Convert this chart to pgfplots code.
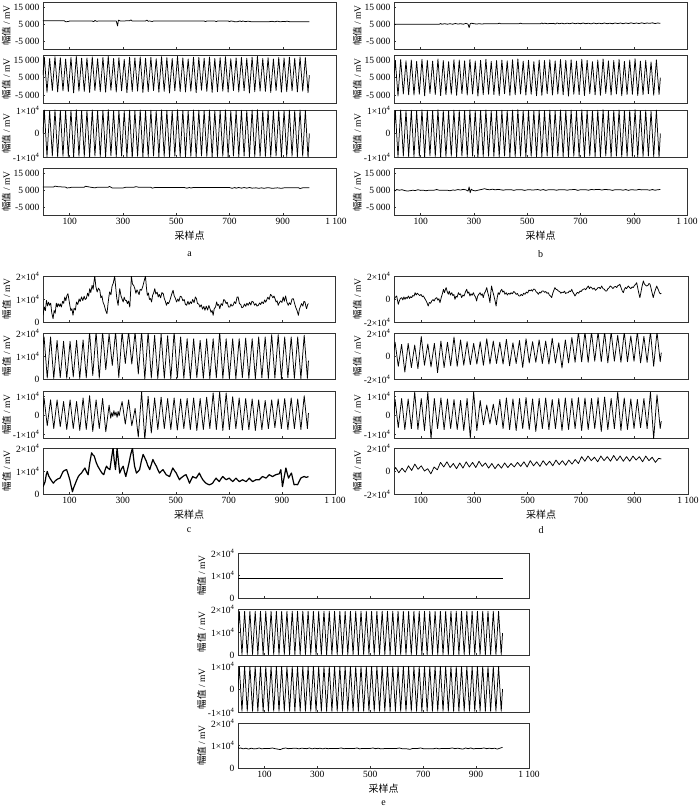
\documentclass[border=0pt]{standalone}
\usepackage{fontspec}
\setmainfont{Liberation Serif}
\newfontfamily\cjk{Noto Sans CJK SC}
\usepackage{pgfplots}
\usepackage{pgfplotstable}
\pgfplotsset{compat=1.18}

% clean 50-cycle signals (peaks / troughs), panels a, b, e
\pgfplotstableread{
x a2 a3 b2 b3 e2 e3
0 6500 0 5000 0 9500 0
5 16750 9950 14800 9800 19000 9800
15 -3300 -9900 -5550 -10050 200 -9700
25 16000 9700 15400 10000 19000 9800
35 -2400 -9600 -4350 -9650 200 -9700
45 17050 10050 14650 9750 19000 9800
55 -3150 -9850 -4800 -9800 200 -9700
65 16450 9850 15100 9900 19000 9800
75 -2550 -9650 -4950 -9850 200 -9700
85 15700 9600 14350 9650 19000 9800
95 -3000 -9800 -4500 -9700 200 -9700
105 16600 9900 15550 10050 19000 9800
115 -3750 -10050 -5400 -10000 200 -9700
125 17200 10100 14950 9850 19000 9800
135 -2700 -9700 -4050 -9550 200 -9700
145 16150 9750 14500 9700 19000 9800
155 -2850 -9750 -4650 -9750 200 -9700
165 16300 9800 15700 10100 19000 9800
175 -3450 -9950 -5250 -9950 200 -9700
185 16900 10000 14800 9800 19000 9800
195 -2400 -9600 -4800 -9800 200 -9700
205 15850 9650 14200 9600 19000 9800
215 -3000 -9800 -4500 -9700 200 -9700
225 16600 9900 15250 9950 19000 9800
235 -3300 -9900 -5100 -9900 200 -9700
245 17350 10150 15100 9900 19000 9800
255 -2250 -9550 -4200 -9600 200 -9700
265 16000 9700 14650 9750 19000 9800
275 -3150 -9850 -4950 -9850 200 -9700
285 16450 9850 15400 10000 19000 9800
295 -2550 -9650 -4350 -9650 200 -9700
305 15550 9550 14500 9700 19000 9800
315 -3600 -9950 -5550 -10600 200 -9700
325 16750 9950 14950 9850 19000 9800
335 -2850 -10600 -4800 -9800 200 -9700
345 16300 9800 15550 10050 19000 9800
355 -2700 -9700 -4500 -9700 200 -9700
365 16900 10000 14350 9650 19000 9800
375 -3450 -9950 -4650 -9750 200 -9700
385 16150 9750 14800 9800 19000 9800
395 -3000 -9800 -5250 -9950 200 -9700
405 16600 9900 15100 9900 19000 9800
415 -2400 -9600 -4200 -9600 200 -9700
425 15850 9650 14650 9750 19000 9800
435 -3300 -9900 -5100 -9900 200 -9700
445 17050 10050 15250 9950 19000 9800
455 -2850 -9750 -4800 -9800 200 -9700
465 16450 9850 15700 10100 19000 9800
475 -3750 -10050 -4350 -9650 200 -9700
485 16000 9700 14500 9700 19000 9800
495 -2550 -9650 -4950 -9850 200 -9700
505 17200 10100 14950 9850 19000 9800
515 -3000 -9800 -4500 -9700 200 -9700
525 16300 9800 14200 9600 19000 9800
535 -3150 -9850 -5400 -10000 200 -9700
545 15700 9600 15100 9900 19000 9800
555 -2700 -9700 -5100 -9900 200 -9700
565 16750 9950 14800 9800 19000 9800
575 -3600 -10000 -4200 -9600 200 -9700
585 16600 9900 15250 9950 19000 9800
595 -2250 -9550 -4950 -9850 200 -9700
605 16150 9750 14650 9750 19000 9800
615 -2850 -9750 -4350 -9650 200 -9700
625 16900 10000 15400 10000 19000 9800
635 -3450 -9950 -4800 -9800 200 -9700
645 16000 9700 14950 9850 19000 9800
655 -3000 -9800 -5550 -10050 200 -9700
665 16450 9850 15250 9950 19000 9800
675 -2700 -9700 -4500 -9700 200 -9700
685 17050 10050 14500 9700 19000 9800
695 -3300 -9900 -4650 -9750 200 -9700
705 15850 9650 15550 10050 19000 9800
715 -2400 -9600 -5250 -9950 200 -9700
725 16300 9800 14950 9850 19000 9800
735 -3150 -9850 -4200 -9600 200 -9700
745 16600 9900 14200 9600 19000 9800
755 -2550 -9650 -4800 -9800 200 -9700
765 16150 9750 15100 9900 19000 9800
775 -3750 -10050 -5100 -9900 200 -9700
785 16750 9950 15700 10100 19000 9800
795 -3000 -9800 -4050 -9550 200 -9700
805 17200 10100 14650 9750 19000 9800
815 -2700 -9700 -4950 -9850 200 -9700
825 16000 9700 14800 9800 19000 9800
835 -2850 -9750 -4350 -9650 200 -9700
845 16450 9850 15400 10000 19000 9800
855 -3450 -9950 -5400 -10000 200 -9700
865 15700 9600 14350 9650 19000 9800
875 -2400 -9600 -4650 -9750 200 -9700
885 16600 9900 15100 9900 19000 9800
895 -3300 -9900 -4500 -9700 200 -9700
905 16300 9800 15850 10150 19000 9800
915 -3000 -9800 -5250 -9950 200 -9700
925 16750 9950 14500 9700 19000 9800
935 -2550 -9650 -4800 -9800 200 -9700
945 16150 9750 14950 9850 19000 9800
955 -3150 -9850 -4200 -9600 200 -9700
965 16900 10000 14050 9550 19000 9800
975 -2700 -9700 -5100 -9900 200 -9700
985 16450 9850 15250 9950 19000 9800
995 -3600 -10500 -4650 -10200 200 -9700
1000 6500 0 5000 0 9500 0
}\clean

% disturbed signals, panels c and d
\pgfplotstableread{
x c2 d2 d3
0 15000 5000 0
4 18300 12000 8500
16 400 -9000 -6500
28.5 18300 10000 9000
40.5 200 -14000 -7500
53 16800 11000 8800
65 600 -10000 -7000
77.5 16400 9500 12500
89.5 300 -11000 -7500
102 16400 17000 9000
114 900 -8000 -8000
126.5 16800 10500 12500
138.5 200 -9500 -12500
151 17000 11000 9000
163 500 -14500 -7000
175.5 20500 13000 9300
187.5 1500 -10000 -7500
200 20500 12000 8800
212 300 -8500 -7000
224.5 20500 16500 8500
236.5 4000 -9000 -7500
249 19500 14000 8000
261 5900 -8000 -8000
273.5 20500 12500 9000
285.5 600 -7500 -12000
298 20500 11000 12500
310 6700 -7000 -8000
322.5 20500 12500 8000
334.5 6500 -8000 -5000
347 20500 15000 5500
359 2200 -7000 -4500
371.5 20500 13000 6000
383.5 0 -6500 -5000
396 20500 12000 8500
408 400 -7000 -7000
420.5 19000 14500 9300
432.5 200 -8500 -7500
445 19500 11500 8800
457 300 -6500 -8000
469.5 18800 13500 9000
481.5 100 -10000 -7000
494 20500 15000 9500
506 500 -6000 -7500
518.5 18300 12500 8800
530.5 300 -5500 -8500
543 17500 14000 9000
555 200 -6500 -7000
567.5 17500 13000 9300
579.5 600 -7000 -7500
592 16800 15500 8500
604 300 -6000 -7000
616.5 17500 11500 9000
628.5 200 -10500 -8000
641 17500 14000 9300
653 500 -6000 -7500
665.5 20500 16000 9000
677.5 300 -5500 -7000
690 17500 21000 9500
702 400 -5000 -8000
714.5 17500 21000 9300
726.5 200 -5500 -7500
739 17500 21000 9000
751 600 -4500 -7000
763.5 17800 21000 9500
775.5 300 -5000 -8500
788 17500 21000 9800
800 200 -6000 -7500
812.5 18300 21000 9000
824.5 500 -4500 -7000
837 18300 18000 12500
849 300 -5500 -8000
861.5 19300 21000 9300
873.5 400 -5000 -7500
886 19300 17500 8800
898 200 -4500 -7000
910.5 18300 21000 8500
922.5 500 -6000 -6500
935 18300 17000 9000
947 300 -5500 -7000
959.5 18300 21000 12500
971.5 200 -9000 -12500
984 19000 21000 11000
996 300 -5000 -7000
1000 8000 3000 -3000
}\wave

\newcommand{\ts}{\hspace{0.22em}}
\pgfplotsset{
  ln/.style={black, mark=none, line width=0.75pt, line join=round},
  sig/.style={
    scale only axis,
    xmin=0, xmax=1100,
    xtick={100,300,500,700,900,1100},
    xticklabels={},
    scaled x ticks=false, scaled y ticks=false,
    tick align=inside, xtick pos=bottom, ytick pos=left,
    major tick length=2pt,
    axis line style={black!80, line width=0.5pt},
    every tick/.style={black!80, line width=0.4pt},
    tick label style={font=\fontsize{9.5}{11}\selectfont, black},
    ylabel={{\cjk 幅值} / mV},
    ylabel style={at={(axis description cs:-0.125,0.5)}, anchor=center,
      font=\fontsize{9.5}{11}\selectfont},
  },
  bot/.style={
    xticklabels={100,300,500,700,900,1\ts100},
    xlabel={\cjk 采样点},
    xlabel style={font=\fontsize{10}{12}\selectfont, yshift=1pt},
  },
  rA/.style={ymin=-9500, ymax=18000, ytick={-5000,5000,15000},
    yticklabels={-5\ts000,5\ts000,15\ts000}},
  rB/.style={ymin=-10000, ymax=10000, ytick={-10000,0,10000},
    yticklabels={-1×10\textsuperscript{4},0,1×10\textsuperscript{4}}},
  rC/.style={ymin=0, ymax=20000, ytick={0,10000,20000},
    yticklabels={0,1×10\textsuperscript{4},2×10\textsuperscript{4}}},
  rD/.style={ymin=-12000, ymax=13000, ytick={-10000,0,10000},
    yticklabels={-1×10\textsuperscript{4},0,1×10\textsuperscript{4}}},
  rE/.style={ymin=-20000, ymax=20000, ytick={-20000,0,20000},
    yticklabels={-2×10\textsuperscript{4},0,2×10\textsuperscript{4}}},
}

\begin{document}
\begin{tikzpicture}
\useasboundingbox (0,0) rectangle (700pt,-810pt);

%%%%%%%%%%%%%%%% panel a
\begin{axis}[sig, rA, at={(43pt,-2pt)}, anchor=north west, width=293pt, height=47pt]
\addplot[ln] coordinates {(0,7000)(80,7000)(85,6400)(95,6600)(100,6900)(185,6900)(190,6500)(195,7200)(200,6800)(275,6900)(280,4000)(283,7400)(290,6900)(325,7000)(330,7500)(335,6900)(385,6900)(390,7400)(395,6700)(400,6900)(410,6600)(415,6900)(605,6900)(610,6500)(615,6900)(645,6900)(650,6500)(655,6900)(695,6900)(700,6500)(705,6900)(715,6700)(720,6400)(730,6500)(740,6900)(745,6500)(750,6900)(760,6500)(770,6800)(780,6500)(790,6500)(850,6500)(860,6700)(870,6400)(880,6800)(890,6400)(900,6600)(910,6500)(915,6800)(925,6500)(1000,6500)};
\end{axis}
\begin{axis}[sig, rA, at={(43pt,-55pt)}, anchor=north west, width=293pt, height=48pt]
\addplot[ln] table[x=x, y=a2] {\clean};
\end{axis}
\begin{axis}[sig, rB, at={(43pt,-110pt)}, anchor=north west, width=293pt, height=47pt]
\addplot[ln] table[x=x, y=a3] {\clean};
\end{axis}
\begin{axis}[sig, rA, bot, at={(43pt,-168pt)}, anchor=north west, width=293pt, height=47pt]
\addplot[ln] coordinates {(0,6900)(40,6900)(45,7400)(55,7100)(85,6800)(90,6300)(100,6500)(110,6800)(155,6800)(160,7300)(170,7000)(185,6600)(195,6400)(205,6800)(245,6800)(250,7200)(260,6300)(300,6300)(310,6700)(340,6700)(350,7100)(360,6700)(405,6700)(410,6200)(420,6600)(530,6600)(540,6200)(550,6600)(555,6300)(565,6600)(700,6600)(710,6100)(720,6600)(725,6200)(735,6600)(745,6200)(755,6600)(765,6200)(775,6600)(785,6200)(800,6400)(810,6100)(820,6400)(830,6100)(840,6400)(850,6400)(860,6100)(880,6400)(895,6100)(905,6400)(960,6400)(965,6000)(975,6400)(1000,6400)};
\end{axis}

%%%%%%%%%%%%%%%% panel b
\begin{axis}[sig, rA, at={(394pt,-2pt)}, anchor=north west, width=293pt, height=47pt]
\addplot[ln] coordinates {(0,5000)(170,5000)(175,5400)(180,5000)(190,5300)(200,5000)(210,5300)(220,5000)(230,5400)(240,5100)(250,5300)(260,5000)(270,5500)(278,5000)(282,3000)(286,5200)(290,5600)(300,5300)(310,5100)(320,5300)(330,5100)(340,5300)(350,5300)(390,5300)(395,5600)(400,5300)(470,5300)(475,5600)(480,5300)(550,5300)(555,5700)(560,5200)(565,5600)(575,5300)(600,5500)(605,5100)(612,5700)(620,5300)(630,5600)(640,5200)(650,5600)(660,5300)(670,5700)(680,5300)(690,5600)(700,5300)(710,5700)(720,5300)(730,5600)(740,5200)(750,5700)(760,5300)(770,5600)(780,5300)(790,5700)(800,5300)(810,5600)(820,5300)(830,5700)(840,5400)(850,5700)(860,5300)(870,5700)(880,5400)(890,5800)(900,5400)(910,5700)(920,5400)(930,5800)(940,5400)(950,5700)(960,5500)(970,5800)(980,5400)(990,5700)(1000,5500)};
\end{axis}
\begin{axis}[sig, rA, at={(394pt,-55pt)}, anchor=north west, width=293pt, height=48pt]
\addplot[ln] table[x=x, y=b2] {\clean};
\end{axis}
\begin{axis}[sig, rB, at={(394pt,-110pt)}, anchor=north west, width=293pt, height=47pt]
\addplot[ln] table[x=x, y=b3] {\clean};
\end{axis}
\begin{axis}[sig, rA, bot, at={(394pt,-168pt)}, anchor=north west, width=293pt, height=47pt]
\addplot[ln] coordinates {(0,5200)(5,4700)(10,5400)(20,5000)(30,5300)(40,4800)(50,4500)(60,4700)(70,5000)(80,4800)(90,5300)(100,4900)(110,5000)(120,4700)(130,5000)(150,5000)(160,5400)(170,5000)(200,5000)(210,4700)(220,5100)(230,5000)(240,5400)(250,5100)(260,5500)(270,5200)(278,4500)(282,6900)(286,3500)(290,5600)(295,5000)(305,4600)(315,5000)(330,5500)(340,5900)(350,5400)(360,5300)(370,5600)(380,5200)(390,5500)(400,5300)(410,5000)(420,5300)(440,5300)(450,4900)(460,5300)(480,5300)(490,4900)(500,5200)(510,5300)(520,5100)(540,5400)(550,5000)(560,5400)(570,4900)(580,5300)(600,5300)(610,5000)(620,5300)(640,5300)(650,5000)(660,5300)(680,5400)(690,4900)(700,5300)(720,5300)(730,5000)(740,5400)(750,5300)(770,5500)(780,5100)(790,5400)(810,5300)(820,4900)(830,5300)(850,5300)(860,5000)(870,5400)(880,4900)(890,5300)(910,5100)(920,5500)(930,5200)(950,5300)(960,5000)(970,5400)(980,5000)(990,5300)(1000,5400)};
\end{axis}

%%%%%%%%%%%%%%%% panel c
\begin{axis}[sig, rC, at={(43pt,-276pt)}, anchor=north west, width=292pt, height=46pt]
\addplot[ln] coordinates {(0,2900)(5,6500)(9,5000)(13,9400)(17,7000)(21,8600)(25,7250)(29,8200)(33,4000)(38,1450)(42,5000)(46,3800)(50,8200)(54,6500)(57,8000)(62,6800)(65,7900)(69,6500)(74,9000)(78,8100)(82,10900)(86,9200)(90,11500)(94,12300)(98,9500)(101,7250)(105,5000)(109,5800)(113,2900)(117,6000)(122,5200)(126,8700)(131,7600)(136,10000)(140,8900)(145,10900)(150,9300)(155,11200)(159,9800)(163,10150)(168,12500)(172,11200)(176,14500)(180,12800)(185,15950)(189,14200)(192,17500)(195,20000)(199,15500)(204,13050)(209,14700)(214,13800)(218,10500)(222,11400)(226,8700)(231,7200)(236,5000)(241,3600)(245,8000)(248,10800)(251,13050)(256,11800)(260,15500)(265,17000)(270,20000)(274,15000)(278,10200)(283,7250)(286,11000)(289,14500)(294,11300)(298,10000)(302,8700)(306,10800)(310,9400)(314,9400)(318,8000)(322,9100)(327,6500)(330,13000)(333,20000)(337,16500)(342,15800)(346,14500)(350,12500)(354,14000)(358,13050)(362,11900)(366,14200)(371,13800)(376,15500)(381,17800)(386,20000)(390,14500)(393,11600)(397,12600)(401,9800)(405,10200)(409,8700)(413,11600)(417,12700)(421,14500)(425,12200)(430,13000)(434,10900)(438,12000)(443,10500)(448,12800)(453,12300)(457,10200)(461,9000)(465,7250)(469,8500)(473,8000)(478,9400)(482,11000)(486,12500)(490,13800)(494,11500)(499,10200)(503,8700)(508,10000)(512,9000)(517,11200)(522,10900)(527,9200)(532,9800)(536,7800)(541,7250)(546,9000)(550,7600)(555,8800)(559,8000)(564,9800)(569,8400)(574,10900)(578,10150)(582,8000)(587,7800)(591,6500)(596,7500)(601,5600)(606,6800)(610,5100)(615,6900)(620,5200)(625,7200)(629,5800)(633,4200)(637,5000)(641,2900)(645,5800)(650,6500)(654,8700)(658,7200)(662,7600)(666,5800)(671,8000)(676,7200)(681,9800)(685,9400)(690,8000)(694,8600)(699,6500)(704,6500)(708,7800)(712,6900)(716,7250)(721,8800)(726,8000)(731,10900)(735,10900)(740,8000)(745,7600)(749,6200)(754,6500)(759,7800)(764,6800)(768,8200)(773,7250)(778,8600)(783,7400)(787,9000)(792,8700)(797,7300)(802,8000)(806,6900)(811,7250)(816,8300)(820,7600)(825,8800)(830,8000)(835,9600)(839,8600)(842,9400)(847,10800)(852,9800)(857,12000)(861,11600)(866,10500)(870,11300)(874,10150)(878,8700)(882,9200)(886,7250)(890,8300)(895,9200)(900,8500)(905,10900)(909,9000)(914,11300)(919,8500)(924,7250)(928,8400)(933,7600)(938,10000)(943,10150)(948,8000)(952,6400)(957,5000)(962,2900)(966,5600)(970,6800)(974,8000)(979,6900)(983,9000)(987,8700)(990,6900)(993,5800)(997,7600)(1000,8000)};
\end{axis}
\begin{axis}[sig, rC, at={(43pt,-333pt)}, anchor=north west, width=292pt, height=46pt]
\addplot[ln] table[x=x, y=c2] {\wave};
\end{axis}
\begin{axis}[sig, rD, at={(43pt,-391pt)}, anchor=north west, width=292pt, height=47pt]
\addplot[ln] coordinates {(0,2000)(4,9300)(16,-5500)(28.5,8300)(40.5,-7000)(53,8300)(65,-6000)(77.5,7400)(89.5,-7500)(102,8300)(114,-7000)(126.5,7400)(138.5,-8000)(151,9300)(163,-7500)(175.5,10500)(187.5,-8500)(200,8300)(212,-7000)(224.5,9000)(236.5,-8700)(249,5500)(255,-1500)(259,1500)(263,-500)(267,2500)(271,0)(275,1800)(279,-1000)(283,2200)(287,-200)(291,3000)(298,7400)(310,-4600)(322.5,8300)(334.5,-5500)(347,3700)(359,-11500)(371.5,12500)(383.5,-13000)(396,10200)(408,-9300)(420.5,9300)(432.5,-7500)(445,9700)(457,-7000)(469.5,9000)(481.5,-7500)(494,9300)(506,-7800)(518.5,8800)(530.5,-7000)(543,9000)(555,-7500)(567.5,9300)(579.5,-8000)(592,9000)(604,-7500)(616.5,9700)(628.5,-7000)(641,12000)(653,-7500)(665.5,12500)(677.5,-8000)(690,12000)(702,-7500)(714.5,10000)(726.5,-7000)(739,9300)(751,-7800)(763.5,9000)(775.5,-7500)(788,8800)(800,-8000)(812.5,8300)(824.5,-7500)(837,8000)(849,-7000)(861.5,8300)(873.5,-6500)(886,8800)(898,-7000)(910.5,9000)(922.5,-7500)(935,9300)(947,-7000)(959.5,8800)(971.5,-7500)(984,10500)(996,-7000)(1000,1300)};
\end{axis}
\begin{axis}[sig, rC, bot, at={(43pt,-448pt)}, anchor=north west, width=292pt, height=46pt]
\addplot[ln, line width=1.2pt] coordinates {(0,3200)(4,4200)(8,5400)(12,8200)(16,9800)(21,8000)(26,6900)(31,6000)(35,5300)(39,4700)(45,5600)(51,6200)(57,6600)(64,6900)(70,8400)(76,9800)(82,10300)(89,10600)(95,8500)(101,6200)(106,3500)(111,1000)(115,2600)(120,4000)(126,5800)(133,7600)(139,8500)(145,9100)(151,10200)(158,11300)(164,9600)(170,8400)(176,13500)(183,17900)(188,17000)(193,16500)(197,15000)(201,13500)(207,12000)(214,10600)(221,9300)(229,8400)(234,10500)(239,12100)(245,11200)(252,10600)(258,15500)(264,20000)(268,15000)(273,10600)(276,15000)(279,20000)(284,14500)(289,9100)(295,10800)(302,12100)(307,9600)(312,7600)(318,10500)(324,13500)(330,17000)(337,20000)(341,15800)(345,12100)(349,10500)(352,9100)(358,9800)(364,10600)(370,14000)(377,17200)(383,15800)(389,14300)(395,12300)(402,10600)(408,12800)(414,15000)(420,13500)(427,12100)(433,10500)(439,9100)(445,9900)(452,10600)(458,9500)(464,8400)(470,8000)(477,7600)(483,9500)(489,11300)(495,10200)(502,9100)(508,7600)(514,6200)(520,7000)(527,7600)(533,8100)(539,8400)(546,6500)(552,4700)(558,6200)(564,7600)(570,7200)(577,6900)(583,8000)(589,9100)(595,7600)(602,6200)(608,5400)(614,4700)(620,4300)(627,4000)(633,4300)(639,4700)(645,5800)(652,6900)(658,6100)(664,5400)(670,6500)(677,7600)(683,6900)(690,6200)(696,6600)(702,6900)(708,6100)(715,5400)(721,6200)(727,6900)(733,6100)(740,5400)(746,5800)(752,6200)(758,5800)(765,5400)(771,6100)(777,6900)(783,6100)(790,5400)(796,5800)(802,6200)(808,6200)(815,6200)(821,6900)(827,7600)(833,7300)(840,6900)(846,7600)(852,8400)(858,8000)(865,7600)(871,8000)(877,8400)(883,8600)(890,8800)(896,10600)(902,3200)(908,7000)(915,11300)(920,9000)(925,6900)(930,8000)(936,9100)(941,6500)(946,4000)(952,4200)(959,4000)(965,5500)(971,6900)(977,7300)(984,7600)(992,7200)(1000,7600)};
\end{axis}

%%%%%%%%%%%%%%%% panel d
\begin{axis}[sig, rE, at={(394pt,-276pt)}, anchor=north west, width=294pt, height=46pt]
\addplot[ln] coordinates {(0,-300)(5,1500)(10,2600)(13,-1000)(16,-4600)(20,-1500)(24,500)(29,1200)(33,-800)(37,1800)(41,-300)(45,1500)(49,400)(54,2600)(58,500)(62,2000)(66,1200)(70,3000)(75,2500)(79,5500)(83,3500)(87,5000)(91,4100)(96,3000)(101,4000)(106,2000)(110,2600)(115,500)(120,-1500)(124,-3500)(128,-6100)(132,-3000)(137,-3800)(141,-1700)(146,-500)(150,-1800)(155,500)(160,1200)(164,-1000)(168,200)(172,-3200)(177,1500)(181,4500)(185,8400)(189,5500)(192,8000)(195,9900)(199,6500)(203,4100)(207,6800)(211,3500)(216,5500)(220,3000)(224,4000)(228,-300)(232,2500)(236,1500)(241,5500)(245,3800)(249,4500)(253,1200)(258,3500)(262,2500)(267,6000)(272,8400)(276,5000)(280,6200)(284,2600)(288,4500)(292,3200)(297,5500)(301,3000)(305,1800)(309,-1700)(313,2500)(317,4000)(322,5500)(326,3200)(330,4500)(334,1200)(338,5000)(342,6500)(347,9900)(351,5500)(355,2000)(359,-3200)(362,5000)(365,11300)(369,7000)(374,2600)(378,-1500)(382,-6100)(386,1000)(390,5500)(394,4000)(399,7000)(403,8400)(407,6000)(411,7000)(415,4100)(420,5500)(424,3500)(429,5000)(434,4100)(438,5500)(443,4500)(448,6500)(453,5500)(457,4000)(462,4800)(466,2800)(471,2600)(476,4000)(481,3000)(485,5000)(490,4100)(495,6000)(500,5200)(505,7800)(509,7000)(514,8000)(518,6800)(522,8600)(527,8400)(531,6500)(536,5500)(540,4100)(545,6000)(549,5200)(554,7000)(559,7000)(563,5800)(568,6500)(572,5000)(577,5500)(581,3500)(586,2500)(590,1200)(594,5000)(598,7500)(602,9900)(606,8500)(611,8000)(615,7000)(620,6500)(624,5000)(629,6000)(633,5500)(638,6800)(642,4800)(647,5500)(652,5500)(656,7000)(661,6500)(665,8400)(669,6000)(673,4500)(677,2600)(682,4500)(686,5800)(691,5000)(696,7000)(700,6500)(704,7800)(708,8400)(713,9000)(717,8000)(722,9800)(727,11300)(731,9000)(735,10500)(739,9900)(744,8500)(749,9500)(754,7500)(758,8400)(763,9800)(768,10000)(772,9000)(777,11300)(782,9000)(787,8500)(791,7000)(796,7000)(800,8800)(805,9800)(809,11300)(814,10500)(819,9000)(824,10500)(829,11000)(833,9900)(837,11500)(841,12000)(845,12800)(850,9500)(854,7000)(858,5500)(862,8500)(866,10000)(870,9000)(874,10500)(877,11300)(881,10000)(886,9000)(891,10500)(895,9900)(899,11500)(904,12800)(908,14200)(912,9500)(916,5000)(920,1200)(924,6000)(928,11000)(933,15700)(937,13000)(941,12000)(945,11300)(950,11800)(954,13500)(958,12800)(962,9000)(966,5000)(970,1200)(974,5000)(978,8000)(983,11300)(987,9000)(990,7500)(993,5500)(997,4500)(1000,5000)};
\end{axis}
\begin{axis}[sig, rE, at={(394pt,-333pt)}, anchor=north west, width=294pt, height=46pt]
\addplot[ln] table[x=x, y=d2] {\wave};
\end{axis}
\begin{axis}[sig, rD, at={(394pt,-391pt)}, anchor=north west, width=294pt, height=47pt]
\addplot[ln] table[x=x, y=d3] {\wave};
\end{axis}
\begin{axis}[sig, rE, bot, at={(394pt,-448pt)}, anchor=north west, width=294pt, height=46pt]
\addplot[ln] coordinates {(0,500)(6,3000)(18,-1500)(30,2500)(42,-1000)(54,4500)(66,500)(78,6000)(90,1500)(102,4500)(114,0)(126,2000)(138,-2500)(150,3500)(162,1000)(174,7500)(186,3500)(198,8000)(210,3000)(222,6500)(234,2000)(246,7000)(258,2500)(270,8000)(282,3500)(294,7500)(306,3000)(318,8500)(330,4000)(342,7000)(354,2500)(366,6500)(378,2000)(390,6000)(402,2500)(414,7000)(426,3000)(438,6500)(450,3500)(462,7500)(474,4000)(486,8000)(498,3500)(510,9000)(522,4500)(534,8000)(546,4000)(558,9000)(570,5000)(582,8500)(594,4500)(606,9500)(618,5500)(630,9000)(642,5000)(654,9500)(666,6000)(678,10000)(690,6500)(702,12500)(714,8500)(726,13000)(738,9000)(750,12000)(762,8000)(774,13000)(786,9000)(798,12500)(810,8500)(822,13500)(834,9000)(846,13000)(858,8500)(870,12500)(882,8500)(894,13000)(906,9500)(918,12500)(930,8000)(942,13000)(954,9000)(966,12000)(978,7500)(990,11000)(1000,10500)};
\end{axis}

%%%%%%%%%%%%%%%% panel e
\begin{axis}[sig, rC, at={(238pt,-553pt)}, anchor=north west, width=291pt, height=45pt]
\addplot[ln] coordinates {(0,8600)(1000,8600)};
\end{axis}
\begin{axis}[sig, rC, at={(238pt,-609pt)}, anchor=north west, width=291pt, height=46pt]
\addplot[ln] table[x=x, y=e2] {\clean};
\end{axis}
\begin{axis}[sig, rB, at={(238pt,-666pt)}, anchor=north west, width=291pt, height=46pt]
\addplot[ln] table[x=x, y=e3] {\clean};
\end{axis}
\begin{axis}[sig, rC, bot, at={(238pt,-723pt)}, anchor=north west, width=291pt, height=45pt]
\addplot[ln] coordinates {(0,9600)(3,8700)(10,8900)(20,8500)(30,8800)(40,8400)(50,8800)(60,8500)(70,8600)(80,8900)(90,8500)(100,8700)(120,8700)(130,8900)(140,8600)(150,8400)(160,8200)(170,8700)(180,8900)(190,8600)(200,8700)(220,8800)(230,8500)(240,8800)(260,8600)(270,8900)(280,8500)(290,8800)(300,8600)(310,8800)(320,8500)(330,8800)(340,8600)(360,8700)(380,8700)(390,8900)(400,8600)(420,8700)(440,8700)(450,8900)(460,8500)(470,8700)(500,8700)(510,8900)(520,8600)(530,8800)(540,8500)(560,8700)(600,8700)(610,8900)(620,8600)(640,8500)(650,8300)(660,8700)(680,8700)(690,8900)(700,8600)(740,8600)(750,8800)(760,8500)(770,8700)(800,8700)(810,8900)(820,8600)(830,8800)(840,8600)(850,8400)(860,8900)(870,8600)(880,8900)(890,8500)(900,8700)(920,8700)(930,8900)(940,8600)(950,8800)(960,8600)(970,8800)(980,8400)(990,8800)(1000,9200)};
\end{axis}

\node[font=\fontsize{10}{12}\selectfont] at (189.5pt,-254pt) {a};
\node[font=\fontsize{10}{12}\selectfont] at (540.5pt,-254pt) {b};
\node[font=\fontsize{10}{12}\selectfont] at (189pt,-530pt) {c};
\node[font=\fontsize{10}{12}\selectfont] at (541pt,-530pt) {d};
\node[font=\fontsize{10}{12}\selectfont] at (383.5pt,-803pt) {e};
\end{tikzpicture}
\end{document}
